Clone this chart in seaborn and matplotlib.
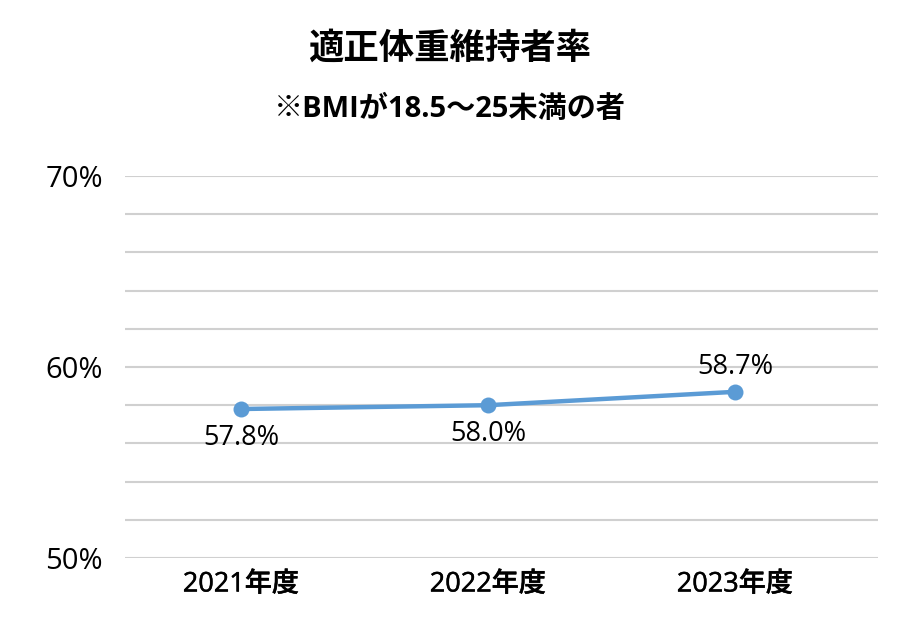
import matplotlib
matplotlib.use("Agg")
import matplotlib.pyplot as plt
import matplotlib.patheffects as pe
import seaborn as sns
import pandas as pd
import numpy as np

years = ["2021年度", "2022年度", "2023年度"]
rates = [57.8, 58.0, 58.7]
label_pos = ["below", "below", "above"]
y_ticks = [50, 52, 54, 56, 58, 60, 62, 64, 66, 68, 70]
y_ticklabels = ["50%", "", "", "", "", "60%", "", "", "", "", "70%"]
title = "適正体重維持者率"
subtitle = "※BMIが18.5～25未満の者"

sns.set_theme(style="white")
FAM = ['Open Sans', 'Noto Sans CJK JP', 'DejaVu Sans']
plt.rcParams['font.family'] = FAM
plt.rcParams['text.color'] = 'black'
plt.rcParams['xtick.color'] = 'black'
plt.rcParams['ytick.color'] = 'black'

df = pd.DataFrame({"year": years, "rate": rates, "x": np.arange(len(years))})

fig = plt.figure(figsize=(9, 6.18), dpi=100)
ax = fig.add_axes([0.1389, 0.0971, 0.9756 - 0.1389, 0.7152 - 0.0971])

sns.lineplot(data=df, x="x", y="rate", ax=ax, color="#5B9BD5", linewidth=3.2,
             marker="o", markersize=11.5, markeredgewidth=0, zorder=3)

ax.set_ylim(50, 70)
ax.set_xlim(-0.47, 2.579)
ax.set_yticks(y_ticks)
ax.set_yticklabels(y_ticklabels, fontsize=21)
ax.set_xticks(df["x"])
ax.set_xticklabels(years, fontsize=19.5, fontweight="medium")
for t in ax.get_xticklabels():
    t.set_path_effects([pe.withStroke(linewidth=0.35, foreground="black")])
ax.yaxis.grid(True, color="#d0d0d0", linewidth=1.5)
ax.set_axisbelow(True)
for s in ax.spines.values():
    s.set_visible(False)
ax.tick_params(axis="both", length=0)
ax.tick_params(axis="y", pad=16)
ax.tick_params(axis="x", pad=9)
ax.set_xlabel("")
ax.set_ylabel("")

for xi, v, pos in zip(df["x"], rates, label_pos):
    if pos == "below":
        ax.annotate(f"{v:.1f}%", (xi, v), xytext=(0, -11), textcoords="offset points",
                    ha="center", va="top", fontsize=19.5)
    else:
        ax.annotate(f"{v:.1f}%", (xi, v), xytext=(0, 8), textcoords="offset points",
                    ha="center", va="bottom", fontsize=19.5)

fig.text(0.5, 1 - 50 / 618, title, ha="center", va="center", fontsize=25.5, fontweight="bold")
fig.text(0.5, 1 - 110 / 618, subtitle, ha="center", va="center", fontsize=21, fontweight="bold")

fig.savefig("out.png", dpi=100)
